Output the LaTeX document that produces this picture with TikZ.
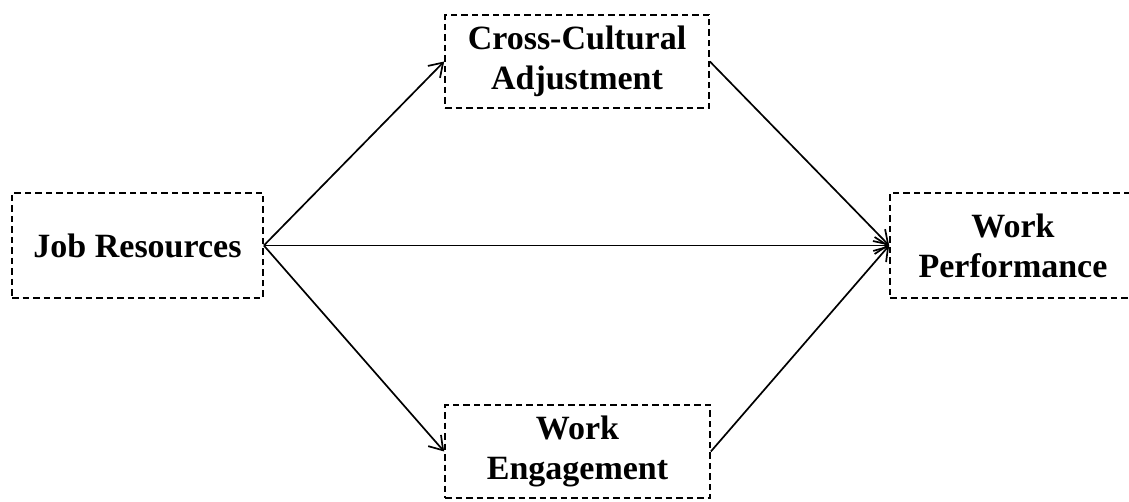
\documentclass[tikz,border=0pt]{standalone}
\usepackage{fontspec}
\setmainfont{Liberation Serif}
\usetikzlibrary{arrows.meta}
\tikzset{
  box/.style={draw, dashed, dash pattern=on 6.5pt off 4pt, line width=1.7pt, inner sep=0pt,
    font=\bfseries\fontsize{34}{40}\selectfont, align=center, anchor=center},
  conn/.style={line width=1.7pt, -{Straight Barb[length=13pt, width=17pt, line width=1.7pt]}}
}
\begin{document}
\begin{tikzpicture}[x=1pt, y=-1pt]
\useasboundingbox (0,0) rectangle (1129,502);
\clip (0,0) rectangle (1129,502);
\node[box, minimum width=251pt, minimum height=105pt] (jr) at (137.5,245.5) {Job Resources};
\node[box, minimum width=264pt, minimum height=93pt] (cca) at (577,61.5) {Cross-Cultural\\Adjustment};
\node[box, minimum width=265pt, minimum height=93pt] (we) at (577.5,451.5) {Work\\Engagement};
\node[box, minimum width=246pt, minimum height=105pt] (wp) at (1013,245.5) {Work\\Performance};
\draw[conn] (jr.east) -- (cca.west);
\draw[conn] (jr.east) -- (we.west);
\draw[conn] (jr.east) -- (wp.west);
\draw[conn] (cca.east) -- (wp.west);
\draw[conn] (we.east) -- (wp.west);
\end{tikzpicture}
\end{document}
